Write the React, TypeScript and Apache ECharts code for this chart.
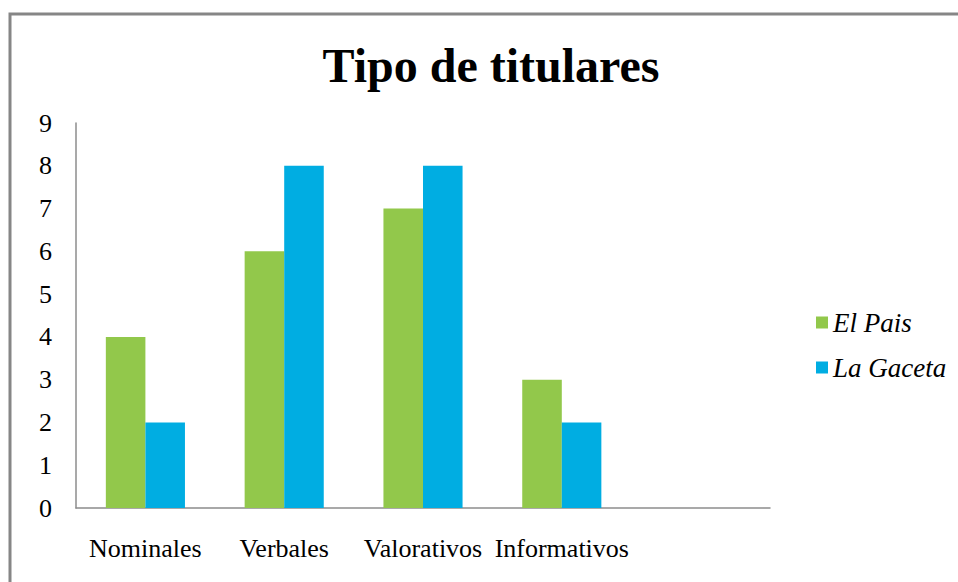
import React, { useEffect, useRef } from "react";
import * as echarts from "echarts";

const categories = ["Nominales", "Verbales", "Valorativos", "Informativos", ""];
const elPais = [4, 6, 7, 3, null];
const laGaceta = [2, 8, 8, 2, null];
const seriesNames = ["El Pais", "La Gaceta"];

const FONT = "'Liberation Serif', 'Times New Roman', serif";

export default function App() {
  const ref = useRef<HTMLDivElement>(null);
  useEffect(() => {
    const chart = echarts.init(ref.current!, undefined, { renderer: "svg" });
    chart.setOption({
      animation: false,
      backgroundColor: "#ffffff",
      title: {
        text: "Tipo de titulares",
        left: 486,
        textAlign: "center",
        top: 36,
        textStyle: { fontFamily: FONT, fontSize: 48, fontWeight: "bold", color: "#000" },
      },
      graphic: [
        {
          type: "rect",
          shape: { x: 10, y: 14, width: 970, height: 600 },
          style: { fill: "none", stroke: "#868686", lineWidth: 3 },
          silent: true,
        },
      ],
      legend: {
        orient: "vertical",
        left: 811,
        top: 304,
        itemWidth: 12,
        itemHeight: 12,
        itemGap: 18,
        icon: "rect",
        textStyle: {
          fontFamily: FONT,
          fontSize: 27,
          lineHeight: 27,
          fontStyle: "italic",
          color: "#000",
        },
        data: seriesNames,
      },
      grid: { left: 76, right: 188, top: 123, bottom: 74, containLabel: false },
      xAxis: {
        type: "category",
        data: categories,
        axisLine: { show: true, lineStyle: { color: "#8c8c8c", width: 1.5 } },
        axisTick: { show: false },
        axisLabel: {
          interval: 0,
          margin: 27,
          fontFamily: FONT,
          fontSize: 26,
          color: "#000",
        },
      },
      yAxis: {
        type: "value",
        min: 0,
        max: 9,
        interval: 1,
        axisLine: { show: true, lineStyle: { color: "#8c8c8c", width: 1.5 } },
        axisTick: { show: false },
        splitLine: { show: false },
        axisLabel: { margin: 24, fontFamily: FONT, fontSize: 26, color: "#000" },
      },
      series: [
        {
          name: seriesNames[0],
          type: "bar",
          data: elPais,
          itemStyle: { color: "#92C84B" },
          barGap: "0%",
          barCategoryGap: "43%",
        },
        {
          name: seriesNames[1],
          type: "bar",
          data: laGaceta,
          itemStyle: { color: "#00ADE2" },
          barGap: "0%",
          barCategoryGap: "43%",
        },
      ],
    });
    return () => chart.dispose();
  }, []);
  return (
    <div
      ref={ref}
      style={{ position: "fixed", left: 0, top: 0, width: 958, height: 582 }}
    />
  );
}
